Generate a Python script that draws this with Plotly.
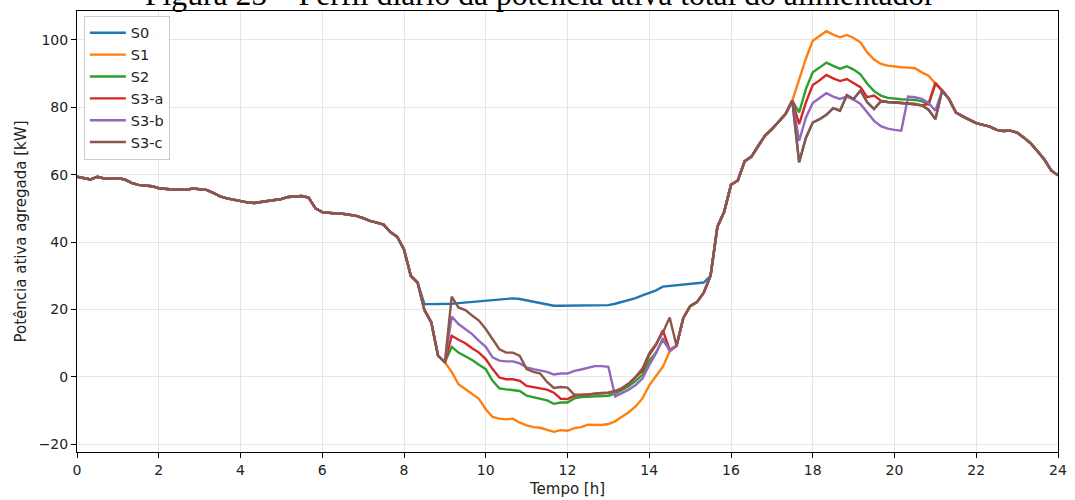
import plotly.graph_objects as go

# time axis: 10-minute steps from 0 h to 24 h
tempo = [i / 6 for i in range(145)]

# common profile 0.0 h .. 8.333 h (all scenarios identical)
base_am = [59.4, 59.0, 58.6, 59.4, 58.9, 58.8, 59.0, 58.6, 57.6, 57.0,
           56.8, 56.6, 56.0, 55.7, 55.6, 55.6, 55.5, 55.9, 55.8, 55.5,
           54.6, 53.6, 53.0, 52.6, 52.1, 51.8, 51.6, 51.9, 52.3, 52.6,
           52.8, 53.4, 53.6, 53.7, 53.2, 50.0, 48.9, 48.6, 48.5, 48.4,
           48.2, 47.8, 47.1, 46.3, 45.8, 45.2, 43.0, 41.6, 37.8, 30.0,
           28.0]

# midday window 8.5 h .. 15.333 h
s0_mid = [21.6, 21.6, 21.6, 21.6, 21.7, 21.9, 22.1, 22.3, 22.5, 22.7,
          22.9, 23.0, 23.2, 23.3, 23.1, 22.7, 22.2, 21.8, 21.4, 21.1,
          21.1, 21.1, 21.1, 21.1, 21.2, 21.2, 21.3, 21.3, 21.7, 22.2,
          22.8, 23.4, 24.2, 25.0, 25.7, 26.8, 27.0, 27.2, 27.4, 27.6,
          27.8, 28.0]
s1_mid = [19.8, 16.2, 6.3, 4.3, 1.5, -2.2, -3.7, -5.2, -6.5, -9.6,
          -11.9, -12.4, -12.6, -12.4, -13.6, -14.4, -14.9, -15.1, -15.6, -16.3,
          -15.8, -16.0, -15.2, -14.9, -14.2, -14.2, -14.3, -14.0, -13.2, -11.8,
          -10.5, -8.8, -6.4, -2.5, 0.2, 3.0, 7.5, 9.2, 17.5, 21.0,
          22.2, 25.0]
s2_mid = [19.8, 16.2, 6.3, 4.3, 8.9, 7.2, 6.2, 5.0, 3.6, 2.3,
          -1.2, -3.4, -3.7, -4.0, -4.2, -5.6, -6.0, -6.5, -7.0, -8.0,
          -7.6, -7.6, -6.4, -6.0, -5.9, -5.9, -5.8, -5.6, -5.0, -4.0,
          -2.8, -1.2, 0.6, 4.8, 7.2, 11.0, 8.0, 9.2, 17.5, 21.0,
          22.2, 25.0]
s3a_mid = [19.8, 16.2, 6.3, 4.3, 12.2, 11.0, 10.0, 8.5, 7.2, 5.3,
           2.3, -0.2, -0.7, -0.7, -1.2, -2.7, -3.1, -3.5, -3.8, -4.7,
           -6.5, -6.6, -5.6, -5.4, -5.3, -5.0, -4.8, -4.7, -4.2, -3.4,
           -2.0, -0.2, 1.8, 6.5, 9.5, 13.8, 8.0, 9.2, 17.5, 21.0,
           22.2, 25.0]
s3b_mid = [19.8, 16.2, 6.3, 4.3, 17.9, 15.7, 14.2, 12.7, 10.7, 8.9,
           5.8, 4.8, 4.6, 4.6, 4.0, 2.8, 2.3, 1.9, 1.5, 0.7,
           1.0, 1.0, 1.8, 2.2, 2.8, 3.2, 3.2, 3.0, -5.8, -4.8,
           -3.8, -2.4, -0.5, 3.5, 7.0, 11.5, 7.7, 9.2, 17.5, 21.0,
           22.2, 25.0]
s3c_mid = [19.8, 16.2, 6.3, 4.3, 23.8, 20.6, 19.8, 18.2, 16.7, 14.2,
           11.2, 8.2, 7.2, 7.2, 6.2, 2.3, 1.5, 1.0, -1.5, -3.3,
           -3.0, -3.2, -5.3, -5.4, -5.3, -5.0, -4.8, -4.7, -4.2, -3.4,
           -2.0, 0.0, 2.5, 7.0, 9.8, 13.2, 17.6, 9.2, 17.5, 21.0,
           22.2, 25.0]

# common afternoon ramp 15.5 h .. 17.5 h
base_pm1 = [30.0, 44.5, 49.0, 57.0, 58.3, 64.0, 65.4, 68.6, 71.6, 73.5,
            75.6, 78.0, 82.0]

# evening window 17.667 h .. 21.0 h
s1_eve = [88.5, 94.5, 99.8, 101.2, 102.6, 101.6, 100.8, 101.5, 100.6, 99.3,
          96.3, 94.2, 92.9, 92.4, 92.1, 91.9, 91.8, 91.6, 90.4, 89.4, 87.0]
s2_eve = [78.5, 85.5, 90.4, 91.8, 93.3, 92.3, 91.5, 92.2, 91.2, 89.8,
          87.0, 84.8, 83.5, 82.8, 82.5, 82.4, 82.3, 82.2, 81.8, 80.8, 87.0]
s3a_eve = [75.0, 81.5, 86.6, 88.0, 89.6, 88.6, 87.8, 88.4, 87.2, 86.0,
           83.0, 83.5, 82.0, 81.6, 81.5, 81.3, 81.1, 81.0, 80.6, 81.0, 87.3]
s3b_eve = [70.0, 77.0, 81.3, 82.8, 84.2, 83.2, 82.5, 83.2, 82.3, 81.0,
           78.5, 76.0, 74.4, 73.7, 73.3, 73.1, 83.2, 83.0, 82.5, 81.3, 79.0]
s3c_eve = [63.7, 71.0, 75.5, 76.5, 77.8, 79.8, 79.0, 83.6, 82.5, 85.0,
           81.5, 79.5, 81.8, 81.6, 81.5, 81.3, 81.1, 81.0, 80.6, 79.3, 76.5]
s0_eve = s3c_eve

# common night profile 21.167 h .. 24 h
base_pm2 = [85.0, 82.5, 78.5, 77.3, 76.3, 75.3, 74.8, 74.3, 73.3, 73.0,
            73.1, 72.5, 71.0, 69.3, 67.0, 64.5, 61.3, 59.8]

series = {
    "S0": base_am + s0_mid + base_pm1 + s0_eve + base_pm2,
    "S1": base_am + s1_mid + base_pm1 + s1_eve + base_pm2,
    "S2": base_am + s2_mid + base_pm1 + s2_eve + base_pm2,
    "S3-a": base_am + s3a_mid + base_pm1 + s3a_eve + base_pm2,
    "S3-b": base_am + s3b_mid + base_pm1 + s3b_eve + base_pm2,
    "S3-c": base_am + s3c_mid + base_pm1 + s3c_eve + base_pm2,
}
colors = ["#1f77b4", "#ff7f0e", "#2ca02c", "#d62728", "#9467bd", "#8c564b"]

x_ticks = list(range(0, 25, 2))
y_ticks = [-20, 0, 20, 40, 60, 80, 100]
caption = "Figura 25 – Perfil diário da potência ativa total do alimentador"

fig = go.Figure()
for (name, vals), c in zip(series.items(), colors):
    fig.add_trace(go.Scatter(x=tempo, y=vals, mode="lines", name=name,
                             line=dict(color=c, width=2.4)))

font_family = "DejaVu Sans"
fig.update_layout(
    width=1075, height=500,
    margin=dict(l=77, r=17, t=11, b=48, autoexpand=False),
    paper_bgcolor="white", plot_bgcolor="white",
    font=dict(family=font_family, size=14, color="#222"),
    legend=dict(x=0.007, y=0.989, xanchor="left", yanchor="top",
                bgcolor="rgba(255,255,255,0.85)", bordercolor="#cccccc",
                borderwidth=1, font=dict(size=14.5, color="#222"),
                tracegroupgap=0, itemwidth=36),
    showlegend=True,
)
fig.add_annotation(text=caption, xref="paper", yref="paper",
                   x=(540 - 77) / 981, y=1 + (11 + 6) / 441,
                   xanchor="center", yanchor="middle", showarrow=False,
                   font=dict(family="Liberation Serif", size=31.6,
                             color="black"))
fig.update_xaxes(range=[0, 24], tickvals=x_ticks, ticks="outside", ticklen=5,
                 tickcolor="black", showline=True, linecolor="black",
                 linewidth=1, mirror=True, showgrid=True, automargin=False,
                 gridcolor="#e6e6e6", gridwidth=1, zeroline=False,
                 title=dict(text="Tempo [h]", font=dict(size=15), standoff=6))
fig.update_yaxes(range=[-22.3, 108.6], tickvals=y_ticks, ticks="outside",
                 ticklen=5, tickcolor="black", showline=True,
                 linecolor="black", linewidth=1, mirror=True, showgrid=True,
                 automargin=False,
                 gridcolor="#e6e6e6", gridwidth=1, zeroline=False,
                 title=dict(text="Potência ativa agregada [kW]",
                            font=dict(size=15), standoff=8))

fig.write_html("out.html",
               config={"displayModeBar": False},
               post_script="document.body.style.margin='0';"
                           "document.body.style.padding='0';")
